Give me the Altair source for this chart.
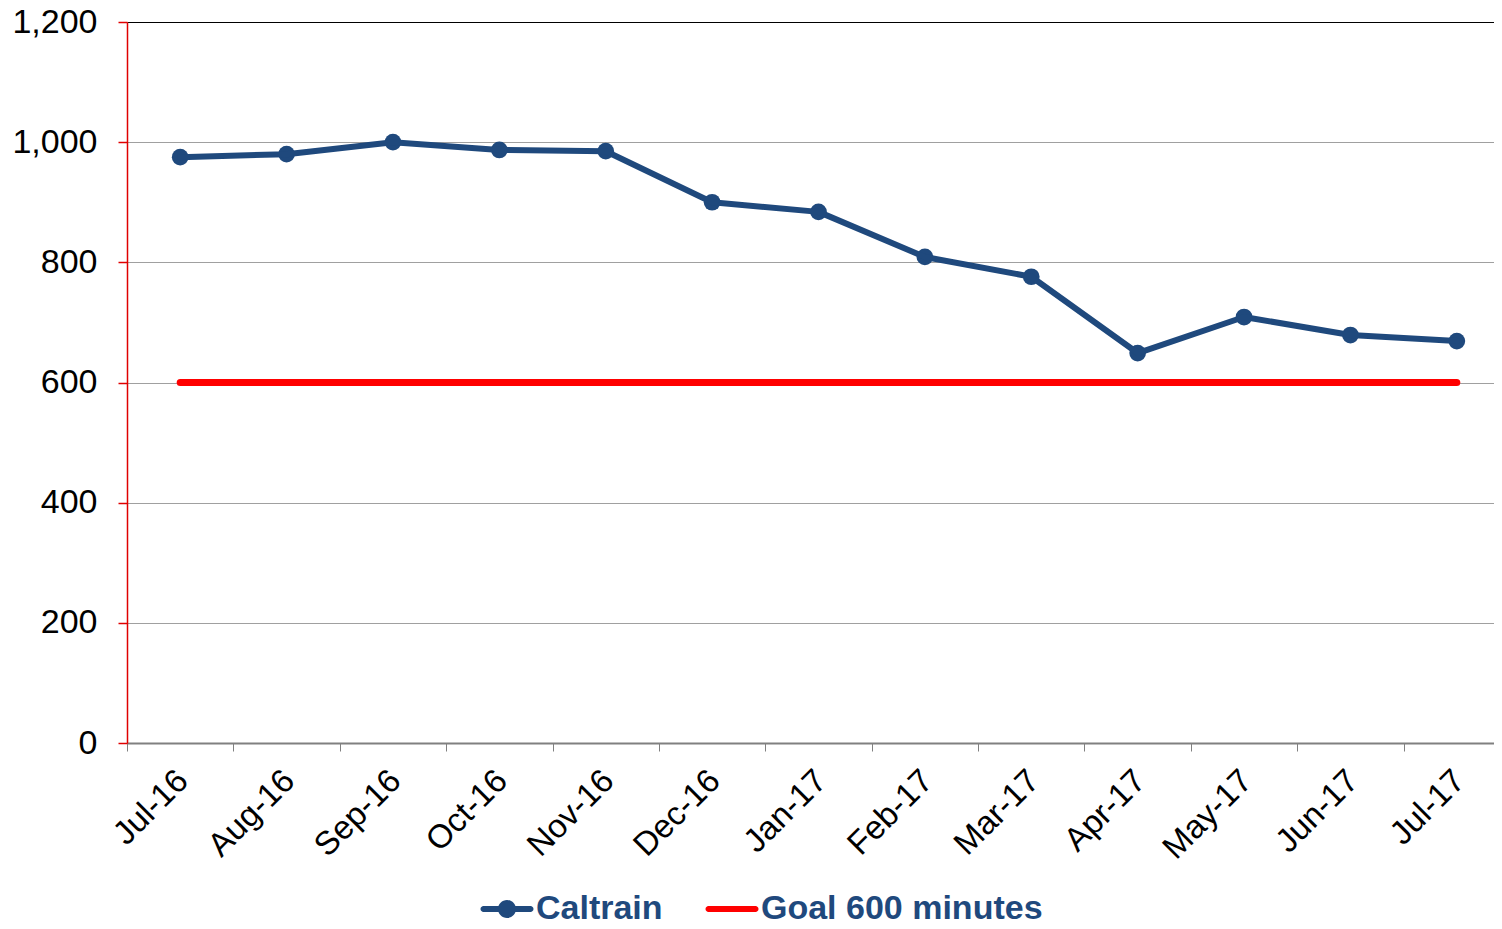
import altair as alt
import pandas as pd

months = ["Jul-16", "Aug-16", "Sep-16", "Oct-16", "Nov-16", "Dec-16", "Jan-17",
          "Feb-17", "Mar-17", "Apr-17", "May-17", "Jun-17", "Jul-17"]
caltrain = [975, 980, 1000, 987, 985, 900, 884, 809, 776, 649, 709, 679, 669]
goal = [600] * 13
series_names = ["Caltrain", "Goal 600 minutes"]
series_colors = ["#1F497D", "#FF0000"]
y_ticks = [0, 200, 400, 600, 800, 1000, 1200]

rows = []
for m, v in zip(months, caltrain):
    rows.append({"month": m, "value": v, "series": series_names[0]})
for m, v in zip(months, goal):
    rows.append({"month": m, "value": v, "series": series_names[1]})
df = pd.DataFrame(rows)

FONT = "Liberation Sans"

cal_path = ("M-0.94,-0.12L0.94,-0.12A0.12,0.12 0 1,1 0.94,0.12L-0.94,0.12A0.12,0.12 0 1,1 -0.94,-0.12Z "
            "M0.36,0A0.36,0.36 0 1,1 -0.36,0A0.36,0.36 0 1,1 0.36,0Z")
goal_path = "M-0.94,-0.12L0.94,-0.12A0.12,0.12 0 1,1 0.94,0.12L-0.94,0.12A0.12,0.12 0 1,1 -0.94,-0.12Z"

x_enc = alt.X(
    "month:N", sort=months, title=None,
    scale=alt.Scale(type="band", paddingInner=0, paddingOuter=0),
    axis=alt.Axis(
        labelAngle=-45, labelFont=FONT, labelFontSize=33, labelColor="black",
        domainColor="#808080", domainWidth=2, tickColor="#808080", tickWidth=1,
        tickSize=8, tickBand="extent", grid=False, labelPadding=13, labelOffset=-9,
    ),
)
y_enc = alt.Y(
    "value:Q", title=None,
    scale=alt.Scale(domain=[0, 1200], nice=False),
    axis=alt.Axis(
        values=y_ticks, format=",d", labelFont=FONT, labelFontSize=34,
        labelColor="black", labelPadding=21,
        domainColor="#E00000", domainWidth=1.5, tickColor="#E00000", tickWidth=1.5,
        tickSize=9,
        gridColor=alt.condition("datum.value == 1200", alt.value("black"), alt.value("#A0A0A0")),
        gridWidth=1,
    ),
)

color_scale = alt.Scale(domain=series_names, range=series_colors)
legend = alt.Legend(
    orient="none", legendX=355, legendY=862, direction="horizontal", title=None,
    labelFont=FONT, labelFontSize=34, labelFontWeight="bold", labelColor="#1F497D",
    labelLimit=0,
    symbolSize=2500, symbolStrokeWidth=0, padding=0, columnPadding=42, labelOffset=4,
    symbolOpacity=1,
    symbolType={"expr": "datum.value === 'Caltrain' ? '%s' : '%s'" % (cal_path, goal_path)},
)

base = alt.Chart(df)
goal_line = base.transform_filter(alt.datum.series == series_names[1]).mark_line(
    strokeCap="round", strokeWidth=7
).encode(
    x=x_enc, y=y_enc,
    color=alt.Color("series:N", scale=color_scale, legend=None),
)
cal_line = base.transform_filter(alt.datum.series == series_names[0]).mark_line(
    strokeCap="round", strokeJoin="round", strokeWidth=6
).encode(
    x=x_enc, y=y_enc,
    color=alt.Color("series:N", scale=color_scale, legend=None),
)
points = base.transform_filter(alt.datum.series == series_names[0]).mark_point(
    filled=True, size=280, opacity=1
).encode(
    x=x_enc, y=y_enc,
    color=alt.Color("series:N", scale=color_scale, legend=legend),
)

chart = alt.layer(points, goal_line, cal_line).properties(
    width=1383, height=721,
    autosize=alt.AutoSizeParams(type="none"),
    padding={"left": 119, "top": 14, "right": -16, "bottom": 178},
).configure_view(stroke=None).configure(background="white")

chart.save("out.html", embed_options={"renderer": "svg", "actions": False})
